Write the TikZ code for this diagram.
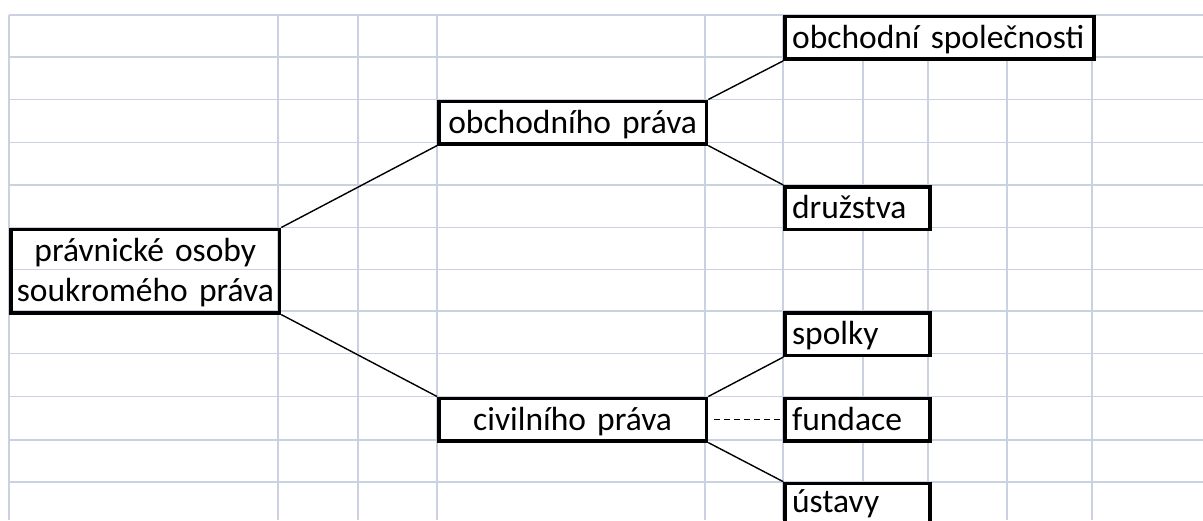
\documentclass[tikz,border=0pt]{standalone}
\usepackage{fontspec}
\setmainfont{Carlito}
\usepackage{tikz}
\definecolor{gridblue}{RGB}{202,210,226}
\tikzstyle{cellbox} = [draw, line width=3.6pt, rectangle, anchor=north west, inner xsep=7pt, inner ysep=0pt, text height=32pt, text depth=10.5pt, align=left, font=\fontsize{33.5}{40}\selectfont]
\tikzstyle{branch} = [line width=1.4pt]

\begin{document}
\begin{tikzpicture}[x=1pt, y=-1pt]
    \useasboundingbox (0,0) rectangle (1203,520);
    % sheet grid
    \foreach \gy in {14.7,57.3,99.5,142.5,185,227.5,269.5,311,353.5,396.5,440,481.7}
        \draw[gridblue, line width=1.7pt] (9.3,\gy) -- (1203,\gy);
    \foreach \gx in {9.3,277.7,358,437,704.7,783.3,863,928,1007,1092}
        \draw[gridblue, line width=1.7pt] (\gx,14.7) -- (\gx,520);
    % boxes
    \node[cellbox, inner xsep=2pt, text width=264.4pt, align=center, text height=32.5pt, text depth=51pt] (root) at (9.3,227.5) {právnické osoby\\soukromého práva};
    \node[cellbox, fill=white, text width=253.7pt, align=center] (obch) at (437,99.5) {obchodního práva};
    \node[cellbox, fill=white, text width=253.7pt, align=center] (civ) at (437,396.5) {civilního práva};
    \node[cellbox, fill=white, text width=294.7pt] (spol) at (783.3,14.7) {obchodní společnosti};
    \node[cellbox, fill=white, text width=130.7pt] (druz) at (783.3,185) {družstva};
    \node[cellbox, fill=white, text width=130.7pt] (spolky) at (783.3,311) {spolky};
    \node[cellbox, fill=white, text width=130.7pt] (fund) at (783.3,396.5) {fundace};
    \node[cellbox, fill=white, text width=130.7pt, text height=29pt, text depth=13.5pt] (ust) at (783.3,481.7) {ústavy};
    % connectors
    \draw[branch] (root.north east) -- (obch.south west);
    \draw[branch] (root.south east) -- (civ.north west);
    \draw[branch] (obch.north east) -- (spol.south west);
    \draw[branch] (obch.south east) -- (druz.north west);
    \draw[branch] (civ.north east) -- (spolky.south west);
    \draw[branch] (civ.south east) -- (ust.north west);
    \draw[branch, dash pattern=on 6pt off 4pt] ([xshift=6pt]civ.east) -- (fund.west);
\end{tikzpicture}
\end{document}
